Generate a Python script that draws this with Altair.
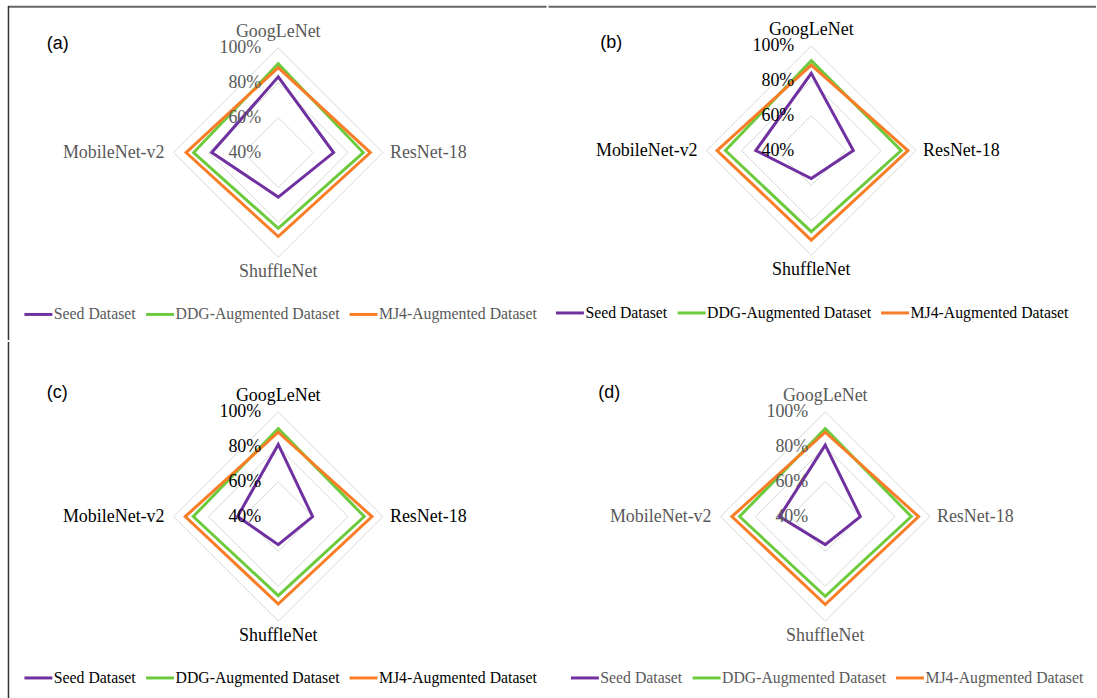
import altair as alt
import pandas as pd

# Radar axes (clockwise from the top) and the three training sets
MODELS = ["GoogLeNet", "ResNet-18", "ShuffleNet", "MobileNet-v2"]
SERIES = ["Seed Dataset", "DDG-Augmented Dataset", "MJ4-Augmented Dataset"]
COLORS = ["#7030A0", "#6CCB3C", "#F97D27"]
TICKS = [40, 60, 80, 100]
RINGS = [60, 80, 100]

# Accuracy (%) per model, in MODELS order
A_SEED = [83.4, 71.7, 65.5, 78.1]
A_DDG = [90.9, 88.7, 83.4, 88.5]
A_MJ4 = [88.7, 92.8, 88.1, 92.8]

B_SEED = [84.2, 64.1, 56.0, 71.8]
B_DDG = [91.5, 91.5, 86.5, 89.2]
B_MJ4 = [89.0, 95.4, 91.3, 94.0]

C_SEED = [81.3, 59.7, 56.1, 63.3]
C_DDG = [90.4, 89.3, 85.3, 88.7]
C_MJ4 = [88.3, 93.7, 90.1, 93.3]

D_SEED = [80.9, 60.1, 56.1, 66.2]
D_DDG = [90.4, 89.3, 85.7, 89.1]
D_MJ4 = [88.3, 93.5, 90.4, 93.5]

R_MIN = 40          # value at the centre of each radar
PX_PER_UNIT = 105 / 60
SERIF = "Liberation Serif"
GRAY = "#595959"

POLAR_X = f"(datum.value - {R_MIN}) * sin(datum.idx * PI / 2)"
POLAR_Y = f"(datum.value - {R_MIN}) * cos(datum.idx * PI / 2)"


def long_table(seed, ddg, mj4):
    rows = []
    for s, vals in zip(SERIES, [seed, ddg, mj4]):
        for i, (m, v) in enumerate(zip(MODELS, vals)):
            rows.append({"series": s, "model": m, "idx": i, "value": v})
    return pd.DataFrame(rows)


grid_df = pd.DataFrame(
    [{"level": lv, "idx": i, "value": lv} for lv in RINGS for i in range(len(MODELS))]
)
tick_df = pd.DataFrame({"value": TICKS, "label": [f"{t}%" for t in TICKS]})
name_df = pd.DataFrame({"model": MODELS, "idx": list(range(len(MODELS))),
                        "value": [100] * len(MODELS)})
one_row = pd.DataFrame({"k": [0]})


def panel(letter, table, W, H, cx, cy, color, leg_x, leg_y, letter_x, letter_y,
          top_rule=None, left_rule=None):
    xs = alt.Scale(domain=[-cx / PX_PER_UNIT, (W - cx) / PX_PER_UNIT], nice=False, zero=False)
    ys = alt.Scale(domain=[-(H - cy) / PX_PER_UNIT, cy / PX_PER_UNIT], nice=False, zero=False)
    X = alt.X("x:Q", scale=xs, axis=None)
    Y = alt.Y("y:Q", scale=ys, axis=None)

    grid = alt.Chart(grid_df).transform_calculate(x=POLAR_X, y=POLAR_Y).mark_line(
        interpolate="linear-closed", color="#D9D9D9", strokeWidth=1
    ).encode(X, Y, detail="level:N", order="idx:Q")

    lines = alt.Chart(table).transform_calculate(x=POLAR_X, y=POLAR_Y).mark_line(
        interpolate="linear-closed", strokeWidth=3
    ).encode(
        X, Y,
        color=alt.Color(
            "series:N",
            scale=alt.Scale(domain=SERIES, range=COLORS),
            sort=SERIES,
            legend=alt.Legend(
                orient="none", legendX=leg_x, legendY=leg_y, direction="horizontal",
                title=None, symbolType="stroke", symbolSize=784, symbolStrokeWidth=3,
                labelFont=SERIF, labelFontSize=15.8, labelColor=color, labelOffset=0,
                columnPadding=3, padding=0, labelLimit=0,
            ),
        ),
        order="idx:Q",
    )

    ticks = alt.Chart(tick_df).transform_calculate(
        x="0", y=f"datum.value - {R_MIN}"
    ).mark_text(align="right", baseline="middle", dx=-17, font=SERIF, fontSize=18,
                color=color).encode(X, Y, text="label:N")

    placements = [
        dict(align="center", dx=0, dy=-16),
        dict(align="left", dx=7, dy=0),
        dict(align="center", dx=0, dy=15),
        dict(align="right", dx=-9, dy=0),
    ]
    names = [
        alt.Chart(name_df).transform_filter(f"datum.idx == {i}")
        .transform_calculate(x=POLAR_X, y=POLAR_Y)
        .mark_text(baseline="middle", font=SERIF, fontSize=18, color=color, **p)
        .encode(X, Y, text="model:N")
        for i, p in enumerate(placements)
    ]

    tag = alt.Chart(pd.DataFrame({"t": [letter]})).mark_text(
        align="left", baseline="middle", font="Liberation Sans", fontSize=18, color="black"
    ).encode(text="t:N", x=alt.value(letter_x), y=alt.value(letter_y))

    layers = [grid, lines, ticks, *names, tag]
    if top_rule is not None:
        x0, x1 = top_rule
        layers.append(alt.Chart(one_row).mark_rule(color="#666666", strokeWidth=2).encode(
            x=alt.value(x0), x2=alt.value(x1), y=alt.value(5.8)))
    if left_rule is not None:
        y0 = left_rule
        layers.append(alt.Chart(one_row).mark_rule(color="#333333", strokeWidth=1.5).encode(
            x=alt.value(8.5), y=alt.value(y0), y2=alt.value(H)))

    return alt.layer(*layers).properties(width=W, height=H)


pa = panel("(a)", long_table(A_SEED, A_DDG, A_MJ4), 548, 340, 279, 152, GRAY,
           23, 298.5, 47, 43, top_rule=(8, 548), left_rule=5)
pb = panel("(b)", long_table(B_SEED, B_DDG, B_MJ4), 549, 340, 263.5, 150, "black",
           6, 297, 52, 42, top_rule=(0, 549))
pc = panel("(c)", long_table(C_SEED, C_DDG, C_MJ4), 548, 358, 279, 175, "black",
           23, 321, 47, 51, left_rule=0)
pd_ = panel("(d)", long_table(D_SEED, D_DDG, D_MJ4), 549, 358, 279.5, 175, GRAY,
            23, 321, 52, 51)


def independent(c):
    return c.resolve_scale(x="independent", y="independent", color="independent") \
            .resolve_legend(color="independent")


top = independent(alt.hconcat(pa, pb, spacing=0))
bottom = independent(alt.hconcat(pc, pd_, spacing=0))
chart = independent(alt.vconcat(top, bottom, spacing=0)).properties(
    padding=0, background="white"
).configure_view(stroke=None)

chart.save("out.html", embed_options={"renderer": "svg", "actions": False})
